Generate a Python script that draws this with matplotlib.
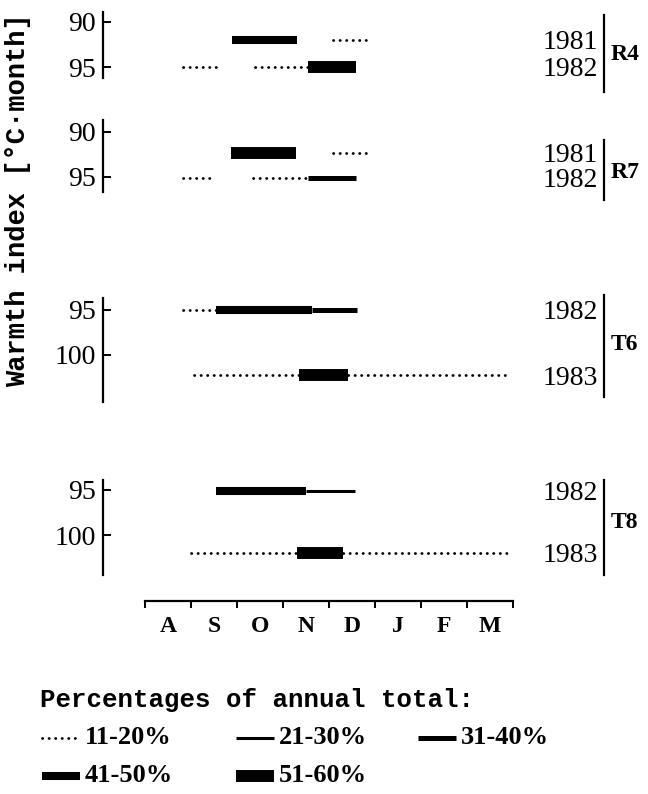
import matplotlib
matplotlib.use("Agg")
import matplotlib.pyplot as plt
from matplotlib.lines import Line2D

# --- data -------------------------------------------------------------
months = ["A", "S", "O", "N", "D", "J", "F", "M"]
classes = ["11-20%", "21-30%", "31-40%", "41-50%", "51-60%"]

sites = ["R4", "R7", "T6", "T8"]
site_years = [["1981", "1982"], ["1981", "1982"], ["1982", "1983"], ["1982", "1983"]]
site_warmth = [[92.0, 95.0], [92.4, 95.1], [95.0, 102.25], [95.1, 102.0]]
site_ticks = [[90, 95], [90, 95], [95, 100], [95, 100]]

# segments per year: (start, end, class index), months counted from 1 Aug
r4_segments = [
    [(1.90, 3.30, 3), (4.09, 4.87, 0)],
    [(0.83, 1.54, 0), (2.39, 3.54, 0), (3.54, 4.59, 4)],
]
r7_segments = [
    [(1.88, 3.28, 4), (4.08, 4.80, 0)],
    [(0.83, 1.52, 0), (2.35, 3.54, 0), (3.54, 4.59, 2)],
]
t6_segments = [
    [(0.82, 1.54, 0), (1.54, 3.62, 3), (3.62, 4.60, 2)],
    [(1.07, 3.35, 0), (3.35, 4.42, 4), (4.42, 7.92, 0)],
]
t8_segments = [
    [(1.54, 3.50, 3), (3.50, 4.57, 1)],
    [(1.01, 3.31, 0), (3.31, 4.31, 4), (4.31, 7.92, 0)],
]
segments = [r4_segments, r7_segments, t6_segments, t8_segments]

# --- styles / layout (pixels of a 648x794 figure) ---------------------
W, H = 648, 794
class_lw = [2.0, 2.2, 3.6, 5.8, 8.6]
dots = (0, (0.1, 2.25))
serif = "Liberation Serif"
mono = "Liberation Mono"

month0_px, month_px = 145, 46     # left edge of Aug, width of one month
panel_px = [(12, 78), (120, 192), (298, 402), (480, 575)]
panel_ylim = [(96.2, 88.9), (96.7, 88.7), (105.2, 93.7), (104.4, 93.9)]
bracket_px = [(15, 92), (140, 200), (295, 397), (480, 575)]
group_label_y = [55, 172, 345, 523]


def fx(px):
    return px / W


def fy(px):
    return 1 - px / H


def px2month(px):
    return (px - month0_px) / month_px


def seg_style(c):
    if c == 0:
        return dict(color="black", lw=class_lw[c], linestyle=dots, dash_capstyle="round")
    return dict(color="black", lw=class_lw[c], solid_capstyle="butt")


fig = plt.figure(figsize=(W / 100, H / 100), dpi=100)

left_px, right_px = 103, 513
for i, site in enumerate(sites):
    top, bot = panel_px[i]
    ax = fig.add_axes([fx(left_px), fy(bot), fx(right_px - left_px), (bot - top) / H])
    ax.set_xlim(px2month(left_px), 8)
    ax.set_ylim(*panel_ylim[i])
    for s in ["top", "right", "bottom"]:
        ax.spines[s].set_visible(False)
    ax.spines["left"].set_linewidth(1.6)
    ax.set_xticks([])
    ax.set_yticks(site_ticks[i])
    ax.tick_params(axis="y", direction="in", length=6, width=1.4, pad=5,
                   labelsize=20, labelfontfamily=serif)
    ax.patch.set_visible(False)

    for yr, w, segs in zip(site_years[i], site_warmth[i], segments[i]):
        for x0, x1, c in segs:
            ax.plot([x0, x1], [w, w], clip_on=False, **seg_style(c))
        ax.text(px2month(598), w + 0.3, yr, ha="right", va="center",
                fontsize=20, family=serif, clip_on=False)

    b0, b1 = bracket_px[i]
    fig.add_artist(Line2D([fx(604), fx(604)], [fy(b0), fy(b1)], color="black",
                          lw=1.6, transform=fig.transFigure))
    fig.text(fx(611), fy(group_label_y[i]), site, ha="left", va="center",
             fontsize=17, family=serif, fontweight="bold")

# month axis
axm = fig.add_axes([fx(month0_px), fy(601), fx(8 * month_px), 5 / H])
axm.set_xlim(0, 8)
axm.set_ylim(0, 1)
for s in ["top", "right", "left"]:
    axm.spines[s].set_visible(False)
axm.spines["bottom"].set_linewidth(1.6)
axm.set_yticks([])
axm.set_xticks(range(9))
axm.set_xticklabels([])
axm.set_xticks([m + 0.5 for m in range(len(months))], minor=True)
axm.set_xticklabels(months, minor=True, fontsize=17, family=serif, fontweight="bold")
axm.tick_params(axis="x", which="major", direction="out", length=5, width=1.4)
axm.tick_params(axis="x", which="minor", length=0, pad=11)
axm.patch.set_visible(False)

# y label
fig.text(fx(18), fy(200), "Warmth index [°C·month]", rotation=90, ha="center",
         va="center", fontsize=19.5, family=mono, fontweight="bold")

# legend
fig.text(fx(40), fy(700), "Percentages of annual total:", ha="left", va="center",
         fontsize=18.5, family=mono, fontweight="bold")
leg_pos = [(42, 738), (236, 738), (418, 738), (42, 776), (236, 776)]
for c, (lx, ly) in enumerate(leg_pos):
    fig.add_artist(Line2D([fx(lx), fx(lx + 38)], [fy(ly), fy(ly)],
                          transform=fig.transFigure, **seg_style(c)))
    fig.text(fx(lx + 43), fy(ly), classes[c], ha="left", va="center",
             fontsize=19, family=serif, fontweight="bold")

fig.savefig("out.png", dpi=100)
